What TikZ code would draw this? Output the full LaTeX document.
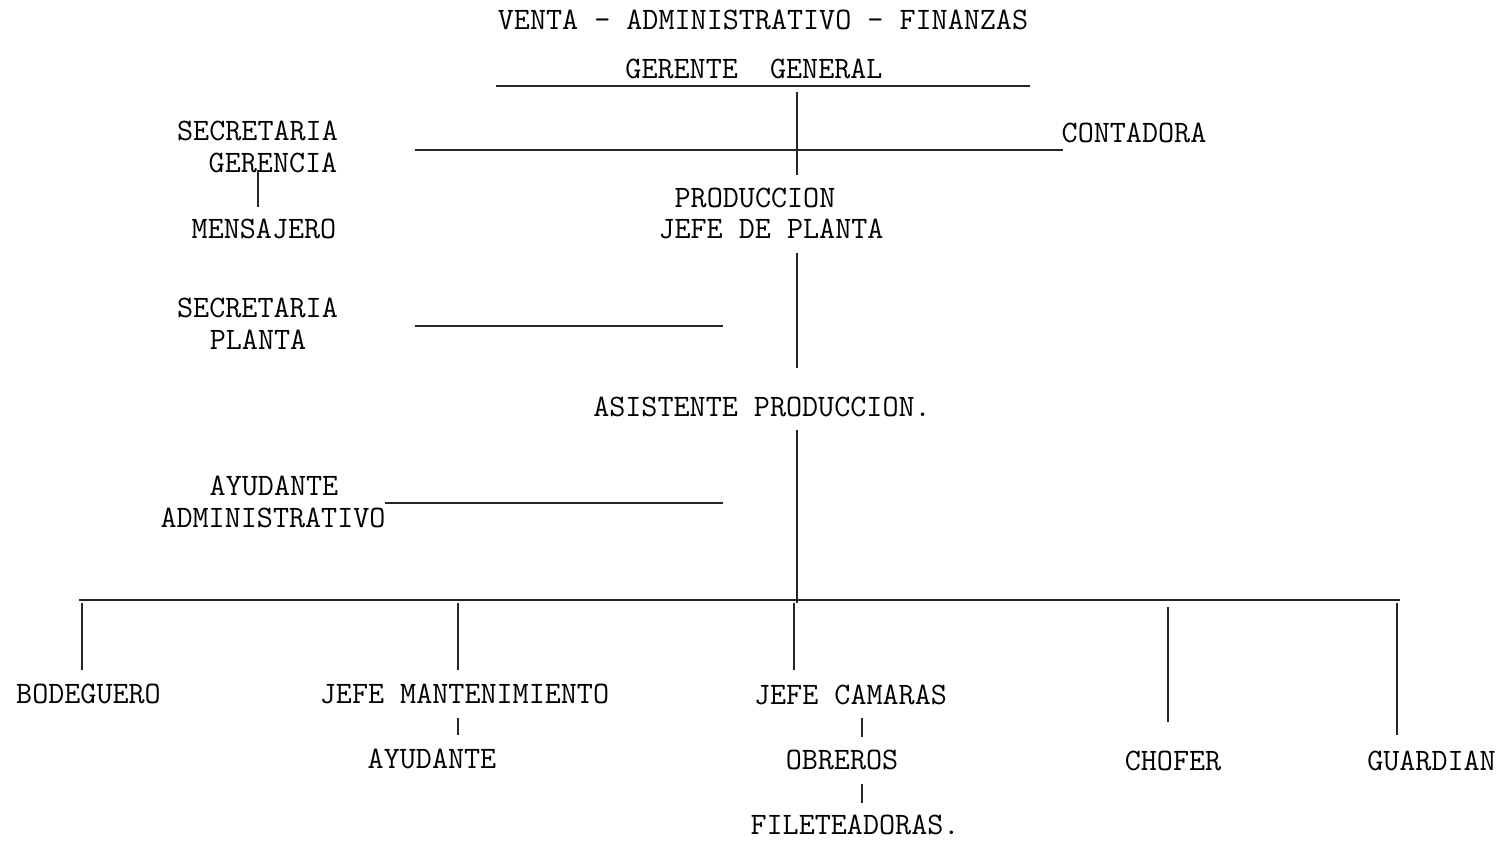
\documentclass[tikz,border=0pt]{standalone}
\begin{document}
\begin{tikzpicture}[x=1pt,y=-1pt,
  lbl/.style={font=\fontsize{31.2}{36}\fontseries{l}\selectfont\ttfamily, inner sep=0pt, anchor=center},
  ln/.style={line width=1.5pt, black!85}]
\useasboundingbox (0,0) rectangle (1503,843);
% texts
\node[lbl] (top)  at (763,20)  {VENTA - ADMINISTRATIVO - FINANZAS};
\node[lbl] (gg)   at (754,69)  {GERENTE\ \ GENERAL};
\node[lbl] (cont) at (1134,133) {CONTADORA};
\node[lbl] (secg1) at (257.5,131) {SECRETARIA};
\node[lbl] (secg2) at (273,163) {GERENCIA};
\node[lbl] (mens) at (264,229) {MENSAJERO};
\node[lbl] (prod1) at (755,198) {PRODUCCION};
\node[lbl] (prod2) at (771,229) {JEFE DE PLANTA};
\node[lbl] (secp1) at (257.5,308) {SECRETARIA};
\node[lbl] (secp2) at (258,340) {PLANTA};
\node[lbl] (asis) at (762,407) {ASISTENTE PRODUCCION.};
\node[lbl] (ayad1) at (274,486) {AYUDANTE};
\node[lbl] (ayad2) at (273,518) {ADMINISTRATIVO};
\node[lbl] (bode) at (88.5,694) {BODEGUERO};
\node[lbl] (jm)   at (464.5,694) {JEFE MANTENIMIENTO};
\node[lbl] (jc)   at (850.5,695) {JEFE CAMARAS};
\node[lbl] (ayu)  at (432,759) {AYUDANTE};
\node[lbl] (obr)  at (842,760) {OBREROS};
\node[lbl] (file) at (855,825) {FILETEADORAS.};
\node[lbl] (chof) at (1173,761) {CHOFER};
\node[lbl] (guar) at (1431.5,761) {GUARDIAN};
% line end points
\coordinate (ggL) at (496,86);   \coordinate (ggR) at (1030,86);
\coordinate (v1a) at (797,92);   \coordinate (v1b) at (797,175);
\coordinate (h1L) at (415,150);  \coordinate (h1R) at (1063,150);
\coordinate (m1) at (258,170);   \coordinate (m2) at (258,207);
\coordinate (v2a) at (797,253);  \coordinate (v2b) at (797,368);
\coordinate (h2L) at (415,326);  \coordinate (h2R) at (723,326);
\coordinate (v3a) at (797,430);  \coordinate (v3b) at (797,603);
\coordinate (h3L) at (385,503);  \coordinate (h3R) at (723,503);
\coordinate (bL) at (79,600);    \coordinate (bR) at (1400,600);
\coordinate (d1) at (82,603);    \coordinate (d1b) at (82,670);
\coordinate (d2) at (458,603);   \coordinate (d2b) at (458,670);
\coordinate (d3) at (794,603);   \coordinate (d3b) at (794,670);
\coordinate (d4) at (1168,607);  \coordinate (d4b) at (1168,722);
\coordinate (d5) at (1397,603);  \coordinate (d5b) at (1397,735);
\coordinate (s1a) at (458,718);  \coordinate (s1b) at (458,735);
\coordinate (s2a) at (862,718);  \coordinate (s2b) at (862,737);
\coordinate (s3a) at (862,784);  \coordinate (s3b) at (862,803);
% lines
\draw[ln] (ggL) -- (ggR);
\draw[ln] (v1a) -- (v1b);
\draw[ln] (h1L) -- (h1R);
\draw[ln] (m1) -- (m2);
\draw[ln] (v2a) -- (v2b);
\draw[ln] (h2L) -- (h2R);
\draw[ln] (v3a) -- (v3b);
\draw[ln] (h3L) -- (h3R);
\draw[ln] (bL) -- (bR);
\draw[ln] (d1) -- (d1b);
\draw[ln] (d2) -- (d2b);
\draw[ln] (d3) -- (d3b);
\draw[ln] (d4) -- (d4b);
\draw[ln] (d5) -- (d5b);
\draw[ln] (s1a) -- (s1b);
\draw[ln] (s2a) -- (s2b);
\draw[ln] (s3a) -- (s3b);
\end{tikzpicture}
\end{document}
